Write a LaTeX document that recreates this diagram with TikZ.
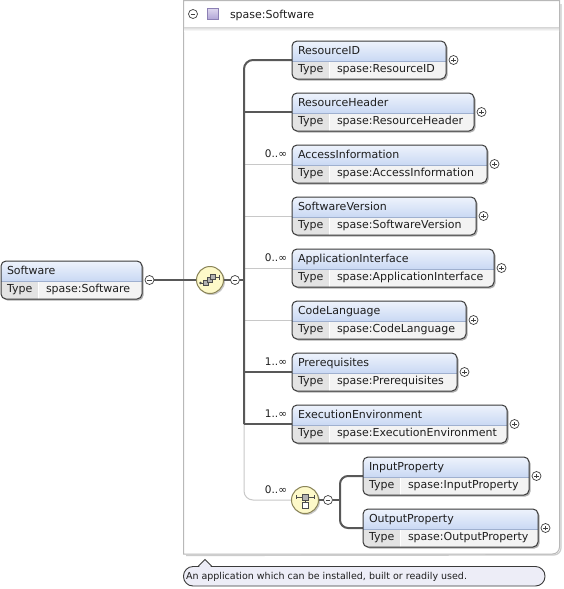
\documentclass[tikz,border=0pt]{standalone}
\usepackage{fontspec}
\setmainfont{DejaVu Sans}
\usetikzlibrary{calc}
\pgfdeclarelayer{bg}
\pgfsetlayers{bg,main}
\definecolor{bordc}{HTML}{3A3A3A}
\definecolor{hdtop}{HTML}{EEF3FC}
\definecolor{hdbot}{HTML}{A9C1EC}
\definecolor{rowbg}{HTML}{F3F3F3}
\definecolor{cellbg}{HTML}{E3E3E3}
\definecolor{sepc}{HTML}{9FB0CF}
\definecolor{shadowc}{HTML}{B0B0B0}
\definecolor{strongc}{HTML}{585858}
\definecolor{weakc}{HTML}{C8C8C8}
\definecolor{pmc}{HTML}{404040}
\definecolor{iconfill}{HTML}{FDF9C9}
\definecolor{iconbord}{HTML}{8A8458}
\definecolor{boxc}{HTML}{B8B8B8}
\definecolor{annfill}{HTML}{EDEDF7}
\definecolor{sqtop}{HTML}{DDD6EE}
\definecolor{sqbot}{HTML}{B0A4D6}
\definecolor{sqbord}{HTML}{8C80B4}
\definecolor{txtc}{HTML}{1E1E1E}

\tikzset{
  lbl/.style={anchor=base west, inner sep=0pt, outer sep=0pt, font=\fontsize{11}{13}\selectfont, text=txtc},
  mult/.style={anchor=base east, inner sep=0pt, outer sep=0pt, font=\fontsize{10.5}{13}\selectfont, text=txtc},
  strong/.style={draw=strongc, line width=2pt},
  weak/.style={draw=weakc, line width=1pt},
  pm/.style={circle, draw=pmc, fill=white, minimum size=9pt, inner sep=0pt, outer sep=0pt, line width=0.7pt},
  pmplus/.style={pm, path picture={
      \draw[pmc, line width=0.8pt]
        ([xshift=-2.3pt]path picture bounding box.center) -- ([xshift=2.3pt]path picture bounding box.center)
        ([yshift=-2.3pt]path picture bounding box.center) -- ([yshift=2.3pt]path picture bounding box.center);}},
  pmminus/.style={pm, path picture={
      \draw[pmc, line width=0.8pt]
        ([xshift=-2.3pt]path picture bounding box.center) -- ([xshift=2.3pt]path picture bounding box.center);}},
  elem/.style={draw=bordc, line width=1pt, rounded corners=5pt, minimum height=38pt,
    inner sep=0pt, outer sep=0pt, anchor=north west,
    path picture={
      \shade[sharp corners, top color=hdtop, bottom color=hdbot]
        (path picture bounding box.north west) rectangle ([yshift=18pt]path picture bounding box.south east);
      \fill[sharp corners, rowbg]
        (path picture bounding box.south west) rectangle ([yshift=18pt]path picture bounding box.south east);
      \fill[sharp corners, cellbg]
        (path picture bounding box.south west) rectangle ([xshift=37pt,yshift=18pt]path picture bounding box.south west);
      \draw[white, line width=1pt]
        ([xshift=37.5pt]path picture bounding box.south west) -- ([xshift=37.5pt,yshift=18pt]path picture bounding box.south west);
      \draw[sepc, line width=0.7pt]
        ([yshift=18pt]path picture bounding box.south west) -- ([yshift=18pt]path picture bounding box.south east);
    }},
  icon/.style={circle, draw=iconbord, fill=iconfill, minimum size=27pt, line width=1pt, inner sep=0pt, outer sep=0pt},
  glyph/.style={draw=black!70, line width=0.8pt},
  glyphbox/.style={draw=black!70, fill=gray!60, line width=0.6pt}
}

% id, x, y, width, title, type, plus/minus style
\newcommand\elem[7]{%
  \fill[shadowc, rounded corners=5pt] (#2+1.5,#3+1.5) rectangle ++(#4,38);
  \node[elem, minimum width=#4pt] (#1) at (#2,#3) {};
  \node[lbl] (#1-h) at ([xshift=6pt,yshift=-13.5pt]#1.north west) {#5};
  \node[lbl] (#1-k) at ([xshift=6pt,yshift=-31.5pt]#1.north west) {Type};
  \node[lbl] (#1-v) at ([xshift=45pt,yshift=-31.5pt]#1.north west) {#6};
  \node[#7] (#1-p) at ([xshift=7.5pt,yshift=-19pt]#1.north east) {};
  \coordinate (#1-in) at ([yshift=-19pt]#1.north west);
}

\begin{document}
\begin{tikzpicture}[x=1pt,y=-1pt]
\useasboundingbox (0,0) rectangle (563,589);

% header of the complex type box
\node[pmminus] (hdm) at (193,14) {};
\shadedraw[top color=sqtop, bottom color=sqbot, draw=sqbord, line width=0.7pt] (207.5,8.5) rectangle (218.5,19.5);
\node[lbl] (hdt) at (230,19) {spase:Software};

% elements
\elem{soft}{1}{261}{141}{Software}{spase:Software}{pmminus}
\elem{rid}{292}{41}{154}{ResourceID}{spase:ResourceID}{pmplus}
\elem{rh}{292}{93}{182}{ResourceHeader}{spase:ResourceHeader}{pmplus}
\elem{ai}{292}{145}{195}{AccessInformation}{spase:AccessInformation}{pmplus}
\elem{sv}{292}{197}{184}{SoftwareVersion}{spase:SoftwareVersion}{pmplus}
\elem{api}{292}{249}{202}{ApplicationInterface}{spase:ApplicationInterface}{pmplus}
\elem{cl}{292}{301}{174}{CodeLanguage}{spase:CodeLanguage}{pmplus}
\elem{pre}{292}{353}{165}{Prerequisites}{spase:Prerequisites}{pmplus}
\elem{exe}{292}{405}{215}{ExecutionEnvironment}{spase:ExecutionEnvironment}{pmplus}
\elem{ip}{363}{457}{166}{InputProperty}{spase:InputProperty}{pmplus}
\elem{op}{363}{509}{175}{OutputProperty}{spase:OutputProperty}{pmplus}

% sequence and choice compositors
\node[icon] (seq) at (210,280) {};
\node[pmminus] (seq-m) at (235,280) {};
\node[icon] (ch) at (305,500) {};
\node[pmminus] (ch-m) at (328,500) {};

\begin{scope}[shift={(seq.center)}]
  \draw[glyph] (-9.5,3) -- (-5,3);
  \fill[black!70] (-9.5,3) circle (1.3pt);
  \draw[glyphbox] (-6.5,0.5) rectangle (-1.5,5.5);
  \draw[glyphbox] (-3,-2.5) rectangle (2,2.5);
  \draw[glyphbox] (0.5,-5.5) rectangle (5.5,-0.5);
  \draw[glyph] (5.5,-3) -- (9,-3);
  \draw[glyph] (9,-5.5) -- (9,-0.5);
\end{scope}
\begin{scope}[shift={(ch.center)}]
  \draw[glyph] (-9,-3) -- (9,-3);
  \draw[glyph] (-9,-5) -- (-9,-1);
  \draw[glyph] (9,-5) -- (9,-1);
  \draw[glyphbox] (-3,-6) rectangle (3,0);
  \draw[glyph] (0,0) -- (0,2.5);
  \draw[glyphbox, fill=white] (-3,2.5) rectangle (3,8);
\end{scope}

% multiplicities
\node[mult] (ai-m) at ([xshift=-5pt,yshift=6.5pt]ai-in) {0..∞};
\node[mult] (api-m) at ([xshift=-5pt,yshift=6.5pt]api-in) {0..∞};
\node[mult] (pre-m) at ([xshift=-5pt,yshift=6.5pt]pre-in) {1..∞};
\node[mult] (exe-m) at ([xshift=-5pt,yshift=6.5pt]exe-in) {1..∞};
\node[mult] (ch-mu) at ([xshift=-4.5pt,yshift=6.5pt]ch.west) {0..∞};

% annotation
\draw[draw=bordc, fill=annfill, line width=0.9pt, rounded corners=9.5pt] (183.5,566.5) rectangle (545,586);
\fill[annfill] (198.6,567.3) -- (205,560.2) -- (211.4,567.3) -- cycle;
\draw[bordc, line width=0.9pt] (198,566.5) -- (205,559.5) -- (212,566.5);
\node[lbl, font=\fontsize{9.5}{11}\selectfont] (ann) at (186,579) {An application which can be installed, built or readily used.};

\begin{pgfonlayer}{bg}
  \fill[white] (0,0) rectangle (563,589);
  % outer box
  \draw[black!20, line width=1.2pt] (561,4) -- (561,548) arc[start angle=0,end angle=-90,radius=7pt] -- (186,555.5);
  \draw[boxc, line width=1pt] (183.5,554) -- (183.5,0.5) -- (559.5,0.5) -- (559.5,547) arc[start angle=0,end angle=-90,radius=7pt] -- cycle;
  \shade[top color=black!16, bottom color=white] (184,27) rectangle (559,31);
  % icon shadows
  \fill[black!22] ([shift={(1.2pt,-1.2pt)}]seq.center) circle (13.8pt);
  \fill[black!22] ([shift={(1.2pt,-1.2pt)}]ch.center) circle (13.8pt);
  % connectors
  \coordinate (bus) at (244,0);
  \coordinate (brx) at (340,500);
  \draw[weak] (ai-in -| bus) -- (ai-in);
  \draw[weak] (sv-in -| bus) -- (sv-in);
  \draw[weak] (api-in -| bus) -- (api-in);
  \draw[weak] (cl-in -| bus) -- (cl-in);
  \draw[weak, rounded corners=9pt] (exe-in -| bus) |- (ch.west);
  \draw[strong, rounded corners=9pt] (rid-in) -| (exe-in -| bus);
  \draw[strong] (exe-in -| bus) -- (exe-in);
  \draw[strong] (rh-in -| bus) -- (rh-in);
  \draw[strong] (pre-in -| bus) -- (pre-in);
  \draw[strong] (soft-p.east) -- (seq.west);
  \draw[strong] (seq.east) -- (seq-m.west);
  \draw[strong] (seq-m.east) -- (seq-m.east -| bus);
  \draw[strong] (ch.east) -- (ch-m.west);
  \draw[strong] (ch-m.east) -- (brx);
  \draw[strong, rounded corners=8pt] (ip-in) -| (brx) |- (op-in);
\end{pgfonlayer}
\end{tikzpicture}
\end{document}
